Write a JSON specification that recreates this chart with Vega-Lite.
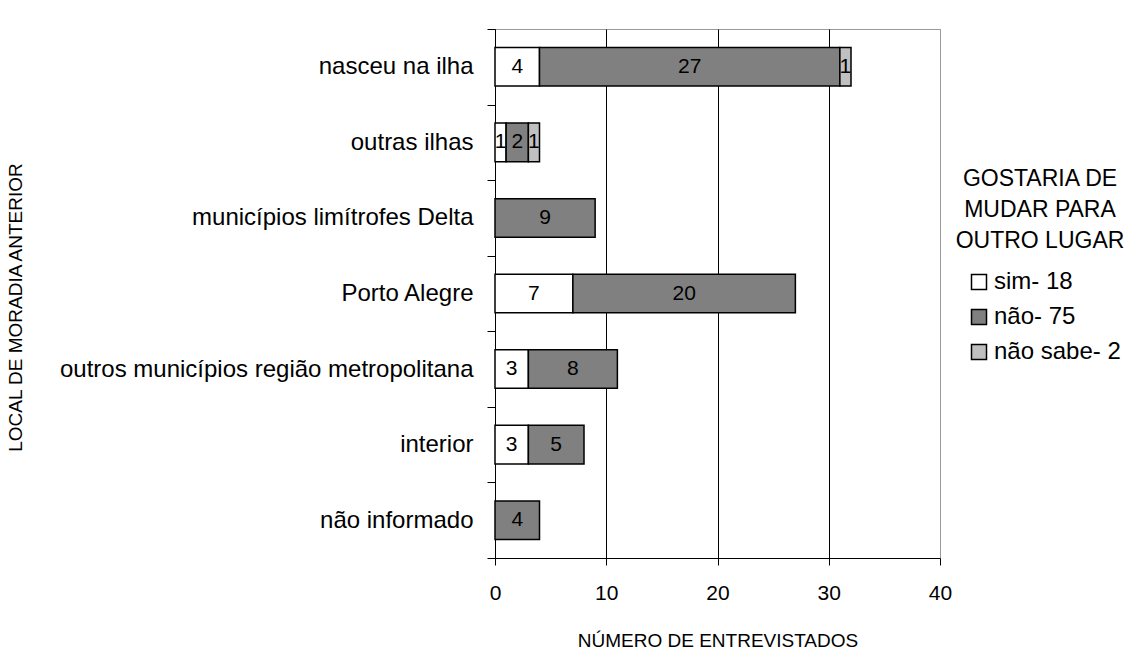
{
  "$schema": "https://vega.github.io/schema/vega-lite/v6.json",
  "width": 445,
  "height": 529,
  "autosize": "none",
  "padding": {"left": 495, "top": 29, "right": 191, "bottom": 109},
  "background": "white",
  "config": {"font": "Liberation Sans", "view": {"stroke": "#999999", "strokeWidth": 1}},
  "data": {"values": [
    {"local": "nasceu na ilha", "resposta": "sim", "ordem": 1, "n": 4},
    {"local": "nasceu na ilha", "resposta": "não", "ordem": 2, "n": 27},
    {"local": "nasceu na ilha", "resposta": "não sabe", "ordem": 3, "n": 1},
    {"local": "outras ilhas", "resposta": "sim", "ordem": 1, "n": 1},
    {"local": "outras ilhas", "resposta": "não", "ordem": 2, "n": 2},
    {"local": "outras ilhas", "resposta": "não sabe", "ordem": 3, "n": 1},
    {"local": "municípios limítrofes Delta", "resposta": "não", "ordem": 2, "n": 9},
    {"local": "Porto Alegre", "resposta": "sim", "ordem": 1, "n": 7},
    {"local": "Porto Alegre", "resposta": "não", "ordem": 2, "n": 20},
    {"local": "outros municípios região metropolitana", "resposta": "sim", "ordem": 1, "n": 3},
    {"local": "outros municípios região metropolitana", "resposta": "não", "ordem": 2, "n": 8},
    {"local": "interior", "resposta": "sim", "ordem": 1, "n": 3},
    {"local": "interior", "resposta": "não", "ordem": 2, "n": 5},
    {"local": "não informado", "resposta": "não", "ordem": 2, "n": 4}
  ]},
  "encoding": {
    "y": {
      "field": "local", "type": "nominal",
      "sort": ["nasceu na ilha", "outras ilhas", "municípios limítrofes Delta", "Porto Alegre", "outros municípios região metropolitana", "interior", "não informado"],
      "scale": {"paddingInner": 0, "paddingOuter": 0},
      "axis": {
        "title": "LOCAL DE MORADIA ANTERIOR", "titleFontSize": 19, "titleFontWeight": "normal", "titleColor": "black",
        "titleX": -480, "titleY": 278, "titleBaseline": "middle", "titleAngle": -90, "titleLimit": 0,
        "labelFontSize": 24, "labelColor": "black", "labelPadding": 14, "labelLimit": 0,
        "tickSize": 8, "tickColor": "black", "tickBand": "extent", "domainColor": "black", "grid": false
      }
    }
  },
  "layer": [
    {
      "mark": {"type": "bar", "stroke": "black", "strokeWidth": 1.5, "height": {"band": 0.51}},
      "encoding": {
        "x": {
          "field": "n", "type": "quantitative", "stack": "zero",
          "scale": {"domain": [0, 40]},
          "axis": {
            "values": [0, 10, 20, 30, 40], "title": "NÚMERO DE ENTREVISTADOS", "titleFontSize": 19, "titleFontWeight": "normal", "titleColor": "black", "titlePadding": 28,
            "labelFontSize": 21, "labelColor": "black", "labelPadding": 17, "labelFlush": false,
            "tickSize": 7, "tickColor": "black", "domainColor": "black",
            "grid": true, "gridOpacity": 1,
            "gridColor": {"condition": {"test": "datum.value == 40", "value": "#999999"}, "value": "black"}
          }
        },
        "color": {
          "field": "resposta", "type": "nominal",
          "scale": {"domain": ["sim", "não", "não sabe"], "range": ["white", "#808080", "#c0c0c0"]},
          "legend": {
            "orient": "none", "legendX": 461, "legendY": 139, "padding": 0,
            "title": ["GOSTARIA DE", "MUDAR PARA", "OUTRO LUGAR"], "titleFontSize": 23, "titleFontWeight": "normal", "titleColor": "black",
            "titleAlign": "center", "titleAnchor": "middle", "titleLineHeight": 31, "titlePadding": 17, "titleLimit": 0,
            "labelFontSize": 24, "labelColor": "black", "labelOffset": 3, "labelLimit": 0,
            "labelExpr": "datum.label == 'sim' ? 'sim- 18' : datum.label == 'não' ? 'não- 75' : 'não sabe- 2'",
            "symbolType": "square", "symbolSize": 225, "symbolStrokeColor": "black", "symbolStrokeWidth": 1.5, "symbolOffset": 8,
            "rowPadding": 11
          }
        },
        "order": {"field": "ordem"}
      }
    },
    {
      "mark": {"type": "text", "fontSize": 21, "color": "black"},
      "encoding": {
        "x": {"field": "n", "type": "quantitative", "stack": "zero", "bandPosition": 0.5},
        "detail": {"field": "resposta"},
        "order": {"field": "ordem"},
        "text": {"field": "n"}
      }
    }
  ]
}
